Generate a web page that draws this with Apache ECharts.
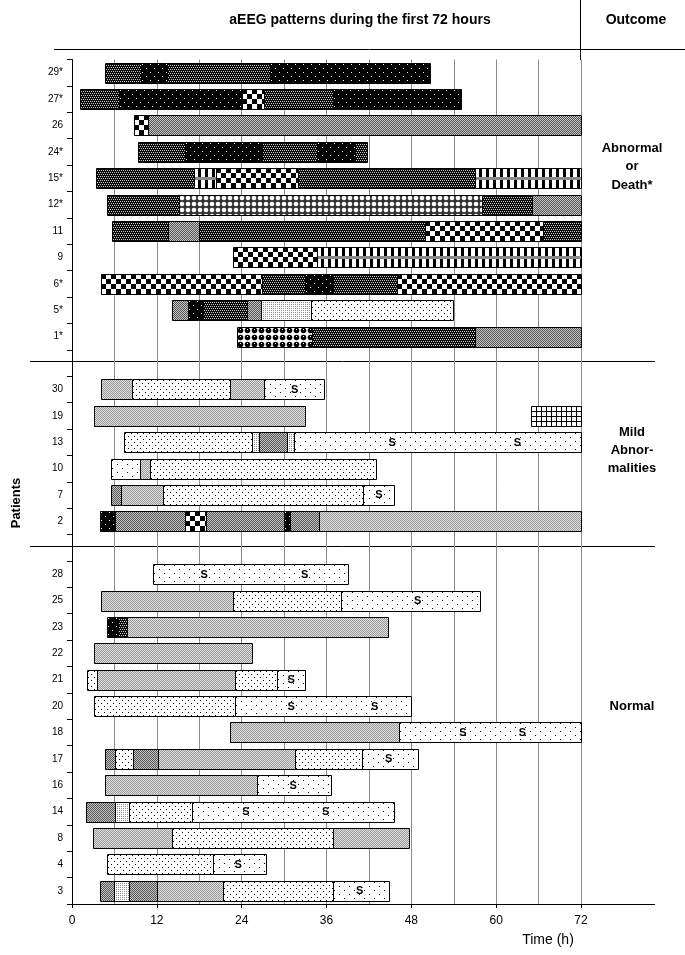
<!DOCTYPE html>
<html><head><meta charset="utf-8">
<script src="https://cdn.jsdelivr.net/npm/echarts@6/dist/echarts.min.js"></script>
<style>html,body{margin:0;padding:0;background:#fff}#c{width:685px;height:955px}</style>
</head><body><div id="c"></div><script>
// Patients, top to bottom ('' = gap between outcome groups)
const patients = ['29*','27*','26','24*','15*','12*','11','9','6*','5*','1*','',
  '30','19','13','10','7','2','',
  '28','25','23','22','21','20','18','17','16','14','8','4','3'];
const xTicks = [0,12,24,36,48,60,72];

// aEEG pattern segments: [patient, start hour, end hour, pattern key]
const segments = [
 ['29*',4.7,9.7,'E'],['29*',9.7,13.4,'F'],['29*',13.4,28.0,'E'],['29*',28.0,50.7,'F'],
 ['27*',1.1,6.6,'E'],['27*',6.6,24.1,'F'],['27*',24.1,27.1,'G'],['27*',27.1,36.9,'E'],['27*',36.9,55.0,'F'],
 ['26',8.7,10.8,'G'],['26',10.8,72,'D'],
 ['24*',9.4,16.0,'E'],['24*',16.0,26.9,'F'],['24*',26.9,34.6,'E'],['24*',34.6,40.1,'F'],['24*',40.1,41.7,'E'],
 ['15*',3.4,17.3,'E'],['15*',17.3,20.3,'I'],['15*',20.3,31.9,'G'],['15*',31.9,57.0,'E'],['15*',57.0,72,'I'],
 ['12*',5.0,15.1,'E'],['12*',15.1,58.0,'H'],['12*',58.0,65.1,'E'],['12*',65.1,72,'D'],
 ['11',5.7,13.6,'E'],['11',13.6,18.0,'D'],['11',18.0,49.9,'E'],['11',49.9,66.6,'G'],['11',66.6,72,'E'],
 ['9',22.8,34.6,'G'],['9',34.6,72,'I'],
 ['6*',4.1,26.9,'G'],['6*',26.9,32.9,'E'],['6*',32.9,36.9,'F'],['6*',36.9,46.0,'E'],['6*',46.0,72,'G'],
 ['5*',14.1,16.4,'D'],['5*',16.4,18.5,'F'],['5*',18.5,24.7,'E'],['5*',24.7,26.8,'D'],['5*',26.8,33.8,'K'],['5*',33.8,53.9,'B'],
 ['1*',23.3,34.0,'H2'],['1*',34.0,57.0,'E'],['1*',57.0,72,'D'],
 ['30',4.1,8.5,'C'],['30',8.5,22.4,'B'],['30',22.4,27.2,'C'],['30',27.2,35.7,'A'],
 ['19',3.1,33.0,'C'],['19',64.9,72,'J'],
 ['13',7.4,25.4,'B'],['13',25.4,26.4,'K'],['13',26.4,30.4,'D'],['13',30.4,31.4,'K'],['13',31.4,72,'A'],
 ['10',5.5,9.6,'A'],['10',9.6,11.0,'C'],['10',11.0,43.0,'B'],
 ['7',5.5,6.9,'D'],['7',6.9,12.9,'C'],['7',12.9,41.2,'B'],['7',41.2,45.5,'A'],
 ['2',4.0,6.1,'F'],['2',6.1,16.0,'D'],['2',16.0,18.9,'G'],['2',18.9,30.0,'D'],['2',30.0,30.9,'F'],['2',30.9,35.0,'D'],['2',35.0,72,'C'],
 ['28',11.4,39.0,'A'],
 ['25',4.1,22.8,'C'],['25',22.8,38.0,'B'],['25',38.0,57.7,'A'],
 ['23',5.0,6.5,'F'],['23',6.5,7.8,'E'],['23',7.8,44.7,'C'],
 ['22',3.1,25.4,'C'],
 ['21',2.1,3.5,'B'],['21',3.5,23.1,'C'],['21',23.1,29.0,'B'],['21',29.0,33.0,'A'],
 ['20',3.1,23.1,'B'],['20',23.1,47.9,'A'],
 ['18',22.4,46.3,'C'],['18',46.3,72,'A'],
 ['17',4.7,6.1,'D'],['17',6.1,8.6,'B'],['17',8.6,12.2,'D'],['17',12.2,31.5,'C'],['17',31.5,41.0,'B'],['17',41.0,49.0,'A'],
 ['16',4.7,26.1,'C'],['16',26.1,36.6,'A'],
 ['14',2.0,6.1,'D'],['14',6.1,8.0,'K'],['14',8.0,17.0,'B'],['14',17.0,45.5,'A'],
 ['8',3.0,14.1,'C'],['8',14.1,36.9,'B'],['8',36.9,47.6,'C'],
 ['4',5.0,20.0,'B'],['4',20.0,27.4,'A'],
 ['3',4.0,6.0,'D'],['3',6.0,8.0,'K'],['3',8.0,12.0,'D'],['3',12.0,21.4,'C'],['3',21.4,36.9,'B'],['3',36.9,44.9,'A']
];

// Sleep-wake cycling marks "S": [patient, hour]
const sleepMarks = [
 ['30',31.5],['13',45.3],['13',63.0],['7',43.4],
 ['28',18.7],['28',32.9],['25',48.9],['21',31.0],['20',31.0],['20',42.8],
 ['18',55.3],['18',63.7],['17',44.8],['16',31.3],['14',24.6],['14',35.9],['4',23.5],['3',40.7]
];

const groupLabels = [
 {lines:['Abnormal','or','Death*'], y:[148,166,185]},
 {lines:['Mild','Abnor-','malities'], y:[432,450,468]},
 {lines:['Normal'], y:[706]}
];

// ---- fill patterns ----
function tile(w,h,fn){const c=document.createElement('canvas');c.width=w;c.height=h;const g=c.getContext('2d');fn(g,w,h);return c;}
function bg(g,w,h,c){g.fillStyle=c;g.fillRect(0,0,w,h);}
function px(g,c,pts){g.fillStyle=c;pts.forEach(p=>g.fillRect(p[0],p[1],1,1));}
const tiles = {
 A: tile(10,8,(g,w,h)=>{bg(g,w,h,'#fff');px(g,'#000',[[1,1],[6,5]]);}),
 B: tile(6,6,(g,w,h)=>{bg(g,w,h,'#fff');px(g,'#000',[[1,1],[4,4]]);}),
 C: tile(2,2,(g,w,h)=>{bg(g,w,h,'#dedede');px(g,'#9a9a9a',[[0,0],[1,1]]);}),
 D: tile(2,2,(g,w,h)=>{bg(g,w,h,'#c4c4c4');px(g,'#555',[[0,0],[1,1]]);}),
 E: tile(4,4,(g,w,h)=>{bg(g,w,h,'#0a0a0a');px(g,'#c8c8c8',[[0,0],[2,0],[1,2],[3,2]]);}),
 F: tile(8,8,(g,w,h)=>{bg(g,w,h,'#000');px(g,'#fff',[[1,1],[5,5]]);}),
 G: tile(10,10,(g,w,h)=>{bg(g,w,h,'#fff');g.fillStyle='#000';g.fillRect(0,0,5,5);g.fillRect(5,5,5,5);}),
 H: tile(6,6,(g,w,h)=>{bg(g,w,h,'#333');g.fillStyle='#fff';g.beginPath();g.arc(3,3,2.3,0,Math.PI*2);g.fill();}),
 H2: tile(7,7,(g,w,h)=>{bg(g,w,h,'#fff');g.fillStyle='#000';g.beginPath();g.arc(3.5,3.5,2.8,0,Math.PI*2);g.fill();px(g,'#fff',[[3,2]]);}),
 I: tile(7,1,(g,w,h)=>{bg(g,w,h,'#fff');g.fillStyle='#000';g.fillRect(4,0,3,1);}),
 J: tile(5,5,(g,w,h)=>{bg(g,w,h,'#fff');g.fillStyle='#000';g.fillRect(0,0,5,1);g.fillRect(0,0,1,5);}),
 K: tile(2,2,(g,w,h)=>{bg(g,w,h,'#fff');px(g,'#8a8a8a',[[0,0]]);})
};
function pat(k,x,y){return {image:tiles[k], repeat:'repeat', x:x, y:y};}

const FONT = "'Liberation Sans', Arial, sans-serif";
const chart = echarts.init(document.getElementById('c'));

const segData = segments.map(s=>[s[1], patients.indexOf(s[0]), s[2]]);
const sData = sleepMarks.map(s=>[s[1], patients.indexOf(s[0])]);

function txt(x,y,t,font,rot){
 const o = {type:'text', x:x, y:y, style:{text:t, font:font, fill:'#000', textAlign:'center', textVerticalAlign:'middle', align:'center', verticalAlign:'middle'}};
 if (rot) o.rotation = rot;
 return o;
}
const graphics = [
 {type:'line', shape:{x1:54,y1:49.5,x2:685,y2:49.5}, style:{stroke:'#000',lineWidth:1}},
 {type:'line', shape:{x1:580.5,y1:0,x2:580.5,y2:60}, style:{stroke:'#000',lineWidth:1}},
 {type:'line', shape:{x1:30,y1:361.5,x2:655,y2:361.5}, style:{stroke:'#000',lineWidth:1}},
 {type:'line', shape:{x1:30,y1:546.5,x2:655,y2:546.5}, style:{stroke:'#000',lineWidth:1}},
 {type:'line', shape:{x1:581,y1:904.5,x2:655,y2:904.5}, style:{stroke:'#000',lineWidth:1}},
 txt(360,20,'aEEG patterns during the first 72 hours','bold 14px '+FONT),
 txt(636,20,'Outcome','bold 14px '+FONT),
 txt(16,503,'Patients','bold 13px '+FONT,Math.PI/2),
 txt(548,940,'Time (h)','14px '+FONT)
];
groupLabels.forEach(gl=>gl.lines.forEach((t,i)=>graphics.push(txt(632,gl.y[i],t,'bold 13px '+FONT))));

chart.setOption({
 animation:false,
 backgroundColor:'#fff',
 grid:{left:72, right:104, top:59.5, bottom:51, containLabel:false},
 xAxis:{type:'value', min:0, max:72, interval:12,
   axisLine:{show:true, lineStyle:{color:'#000', width:1}},
   axisTick:{show:true, length:4, lineStyle:{color:'#000'}},
   axisLabel:{color:'#000', fontSize:12, fontFamily:FONT, margin:11,
     formatter:v=>xTicks.indexOf(v)>=0?String(v):''},
   splitLine:{show:true, lineStyle:{color:'#8c8c8c', width:1}},
   minorTick:{show:false, splitNumber:2},
   minorSplitLine:{show:true, lineStyle:{color:'#8c8c8c', width:1}}},
 yAxis:{type:'category', data:patients, inverse:true,
   axisLine:{show:true, lineStyle:{color:'#000', width:1}},
   axisTick:{show:true, interval:0, length:5, alignWithLabel:false, lineStyle:{color:'#000'}},
   axisLabel:{interval:0, color:'#000', fontSize:10, fontFamily:FONT, margin:9},
   splitLine:{show:false}},
 graphic:graphics,
 series:[
  {type:'custom', data:segData, encode:{x:[0,2], y:1}, clip:false,
   renderItem:function(params, api){
     const seg = segments[params.dataIndex];
     const row = patients.indexOf(seg[0]);
     const p0 = api.coord([seg[1], row]);
     const p1 = api.coord([seg[2], row]);
     const hh = Math.round(api.size([0,1])[1]*0.76);
     const x = Math.round(p0[0])+0.5, x2 = Math.round(p1[0])+0.5;
     const y = Math.round(p0[1]-hh/2)+0.5;
     const children = [{type:'rect', shape:{x:x, y:y, width:x2-x, height:hh},
        style:{fill:pat(seg[3], x-0.5, y-0.5), stroke:'#000', lineWidth:1}}];
     if (seg[3]==='I') children.push({type:'rect', shape:{x:x+0.5, y:y-0.5+Math.round(hh/2)-1, width:x2-x-1, height:3}, style:{fill:'#8a8a8a'}});
     return {type:'group', children:children};
   }},
  {type:'custom', data:sData, encode:{x:0, y:1}, clip:false, z:5,
   renderItem:function(params, api){
     const p = api.coord([api.value(0), api.value(1)]);
     return {type:'text', x:p[0], y:p[1]+0.5, style:{text:'S', font:'bold 11px '+FONT, fill:'#000',
       textAlign:'center', textVerticalAlign:'middle', align:'center', verticalAlign:'middle'}};
   }}
 ]
});
</script></body></html>
